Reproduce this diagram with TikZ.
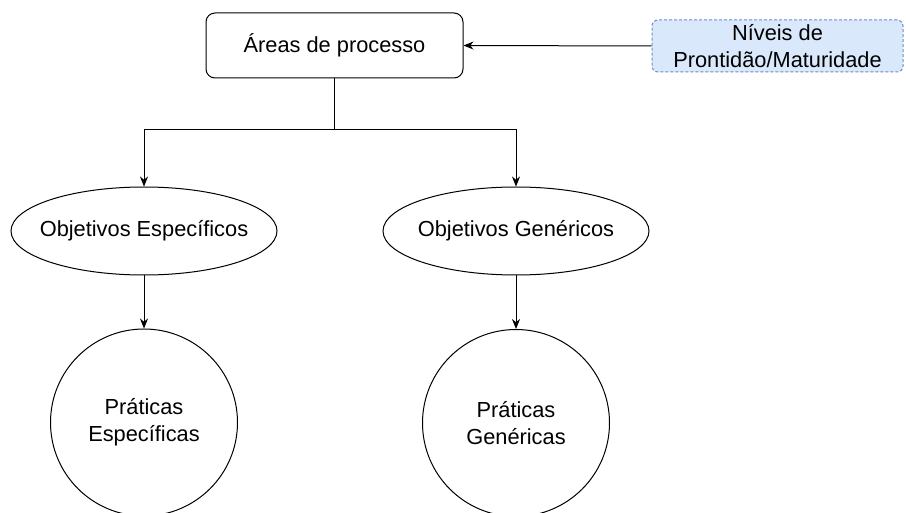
\documentclass[tikz,border=0pt]{standalone}
\usepackage{fontspec}
\setmainfont{Liberation Sans}
\usetikzlibrary{shapes.geometric,arrows.meta}
\definecolor{noteFill}{HTML}{DAE8FC}
\definecolor{noteLine}{HTML}{6C8EBF}
\tikzset{
  every node/.style={font=\fontsize{21.8}{27}\selectfont, align=center, inner sep=0pt},
  procbox/.style={draw, line width=1pt, rounded corners=9pt, minimum width=257pt, minimum height=65pt},
  notebox/.style={draw=noteLine, fill=noteFill, dashed, dash pattern=on 3pt off 2pt, line width=1pt, rounded corners=6pt, minimum width=251pt, minimum height=52pt},
  goal/.style={draw, ellipse, line width=1pt, minimum width=266pt, minimum height=88pt},
  practice/.style={draw, circle, line width=1pt, minimum size=187pt},
  link/.style={line width=1pt},
  arrowlink/.style={line width=1pt, -{Stealth[length=10pt,width=8pt]}}
}
% label whose width does not enlarge the shape around it
\newcommand{\fixedlabel}[1]{\makebox[0pt]{#1}}
\begin{document}
\begin{tikzpicture}[x=1pt,y=-1pt]
  \useasboundingbox (0,0) rectangle (906,513);
  % top process area and its feeding note
  \node[procbox] (areas) at (334.5,45.5) {Áreas de processo};
  \node[notebox] (levels) at (777.5,46) {Níveis de\\Prontidão/Maturidade};
  % goals
  \node[goal] (objesp) at (144,231) {\fixedlabel{Objetivos Específicos}};
  \node[goal] (objgen) at (516,231) {\fixedlabel{Objetivos Genéricos}};
  % practices (their lower rims run just past the bottom edge)
  \node[practice] (praesp) at (144,422.5) {Práticas\\Específicas};
  \node[practice] (pragen) at (516,423) {Práticas\\Genéricas};
  % connectors
  \coordinate (split) at (334.5,130);
  \draw[arrowlink] (levels.west) -- (areas.east);
  \draw[link] (areas.south) -- (split);
  \draw[arrowlink] (split) -| (objesp.north);
  \draw[arrowlink] (split) -| (objgen.north);
  \draw[arrowlink] (objesp.south) -- (praesp.north);
  \draw[arrowlink] (objgen.south) -- (pragen.north);
\end{tikzpicture}
\end{document}
